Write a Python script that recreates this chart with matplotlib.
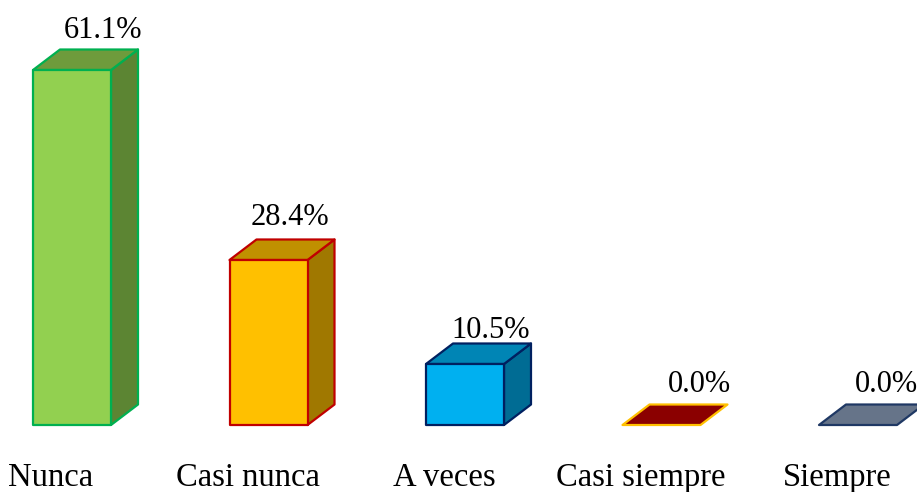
import matplotlib
matplotlib.use("Agg")
import matplotlib.pyplot as plt
from matplotlib.patches import Polygon

categories = ["Nunca", "Casi nunca", "A veces", "Casi siempre", "Siempre"]
values = [61.1, 28.4, 10.5, 0.0, 0.0]
labels = ["61.1%", "28.4%", "10.5%", "0.0%", "0.0%"]

front_colors = ["#92D050", "#FFC000", "#00B0F0", "#8B0000", "#667489"]
top_colors = ["#6E9B3C", "#C09000", "#0085B5", "#8B0000", "#667489"]
side_colors = ["#5C8533", "#A07800", "#006C94", "#8B0000", "#667489"]
edge_colors = ["#00B050", "#C00000", "#002060", "#FFC000", "#1F3864"]
# label placement offsets (pixels): horizontal from bar centre, gap above top
label_dx_px = [31, 21, 26, 38, 28]
label_gap_px = [12, 14, 5, 12, 12]

plt.rcParams['font.family'] = ['Liberation Serif', 'DejaVu Serif']

fig = plt.figure(figsize=(9.17, 4.92), dpi=100)
ax = fig.add_axes([0, 0, 1, 1])
ppu_x = 196.5
ppu_y = 355 / 61.1
ax.set_xlim(-72 / ppu_x, (917 - 72) / ppu_x)
ax.set_ylim(-(492 - 425) / ppu_y, 425 / ppu_y)
ax.axis("off")

w = 78 / ppu_x
dx = 27 / ppu_x
dy = 20.5 / ppu_y

for i, v in enumerate(values):
    x0 = i - w / 2
    x1 = i + w / 2
    ec = edge_colors[i]
    lw = 1.6
    if v > 0:
        front = Polygon([(x0, 0), (x1, 0), (x1, v), (x0, v)], closed=True,
                        facecolor=front_colors[i], edgecolor=ec, lw=lw, joinstyle="round", zorder=3)
        side = Polygon([(x1, 0), (x1 + dx, dy), (x1 + dx, v + dy), (x1, v)], closed=True,
                       facecolor=side_colors[i], edgecolor=ec, lw=lw, joinstyle="round", zorder=2)
        top = Polygon([(x0, v), (x1, v), (x1 + dx, v + dy), (x0 + dx, v + dy)], closed=True,
                      facecolor=top_colors[i], edgecolor=ec, lw=lw, joinstyle="round", zorder=2)
        ax.add_patch(side)
        ax.add_patch(top)
        ax.add_patch(front)
    else:
        flat = Polygon([(x0, 0), (x1, 0), (x1 + dx, dy), (x0 + dx, dy)], closed=True,
                       facecolor=front_colors[i], edgecolor=ec, lw=lw, joinstyle="round", zorder=2)
        ax.add_patch(flat)
    ax.text(i + label_dx_px[i] / ppu_x, v + dy + label_gap_px[i] / ppu_y, labels[i],
            ha="center", va="baseline", fontsize=22, color="black")
    ax.text(i - 21 / ppu_x, -(478 - 425) / ppu_y, categories[i], ha="center", va="center",
            fontsize=23.5, color="black")

fig.savefig("out.png", dpi=100)
